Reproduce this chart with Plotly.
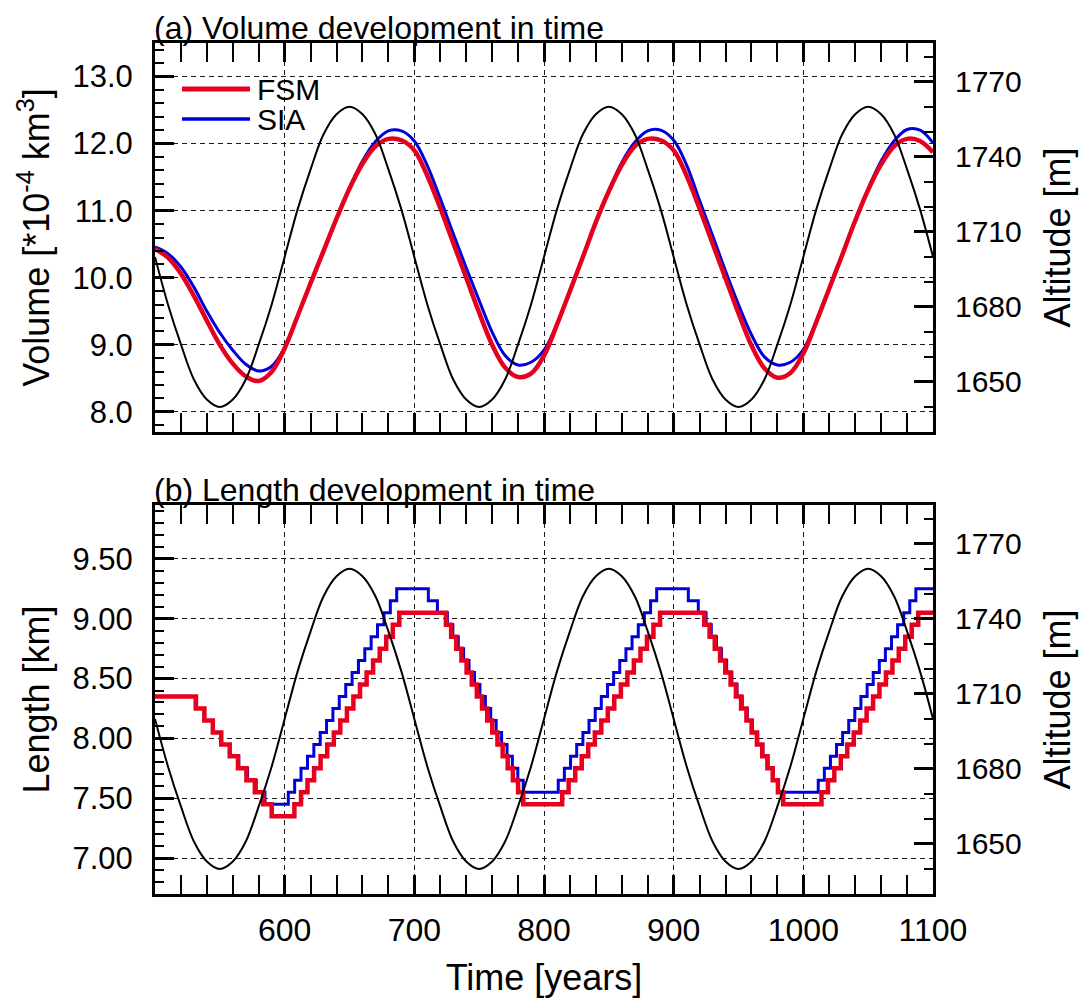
import plotly.graph_objects as go

# ---------------- data ----------------
years = list(range(500, 1101, 10))

altitude = [1700, 1681, 1665, 1651, 1643, 1640, 1643, 1651, 1665, 1681,
            1700, 1719, 1735, 1749, 1757, 1760, 1757, 1749, 1735, 1719,
            1700, 1681, 1665, 1651, 1643, 1640, 1643, 1651, 1665, 1681,
            1700, 1719, 1735, 1749, 1757, 1760, 1757, 1749, 1735, 1719,
            1700, 1681, 1665, 1651, 1643, 1640, 1643, 1651, 1665, 1681,
            1700, 1719, 1735, 1749, 1757, 1760, 1757, 1749, 1735, 1719,
            1700]

vol_fsm = [10.43, 10.30, 10.06, 9.73, 9.36, 9.00, 8.72, 8.53, 8.46, 8.60,
           8.95, 9.43, 9.92, 10.40, 10.88, 11.33, 11.70, 11.96, 12.07, 12.05,
           11.90, 11.52, 11.04, 10.52, 10.00, 9.48, 9.00, 8.66, 8.52, 8.57,
           8.84, 9.30, 9.80, 10.31, 10.83, 11.29, 11.68, 11.96, 12.07, 12.05,
           11.90, 11.52, 11.03, 10.51, 9.99, 9.47, 8.99, 8.65, 8.51, 8.58,
           8.87, 9.34, 9.84, 10.34, 10.85, 11.31, 11.69, 11.96, 12.07, 12.04,
           11.87]

vol_sia = [10.46, 10.36, 10.16, 9.86, 9.50, 9.18, 8.92, 8.71, 8.61, 8.68,
           8.96, 9.43, 9.92, 10.40, 10.88, 11.34, 11.74, 12.03, 12.19, 12.19,
           12.04, 11.67, 11.18, 10.66, 10.15, 9.66, 9.19, 8.84, 8.70, 8.74,
           8.92, 9.31, 9.80, 10.31, 10.83, 11.30, 11.72, 12.02, 12.19, 12.20,
           12.05, 11.68, 11.15, 10.63, 10.10, 9.60, 9.15, 8.82, 8.70, 8.74,
           8.93, 9.35, 9.85, 10.35, 10.86, 11.33, 11.74, 12.04, 12.21, 12.20,
           12.01]

# glacier length: times at which the (stepped) length changes, and new level
fsm_len_t = [500, 531.6, 538.1, 544.6, 551.1, 557.6, 564.0, 570.5, 577.0, 583.5, 590.0,
             607.5, 612.6, 617.6, 622.7, 627.7, 632.8, 637.9, 642.9, 648.0, 653.0,
             658.1, 663.2, 668.2, 673.3, 678.3, 683.4, 688.4,
             724.4, 728.4, 732.3, 736.3, 740.3, 744.3, 748.2, 752.2, 756.2, 760.1,
             764.1, 768.1, 772.0, 776.0, 780.0, 784.0,
             814.0, 819.0, 824.1, 829.1, 834.1, 839.2, 844.2, 849.2, 854.2, 859.3,
             864.3, 869.3, 874.4, 879.4, 884.4, 889.5,
             923.6, 927.7, 931.7, 935.8, 939.8, 943.9, 948.0, 952.0, 956.1, 960.1,
             964.2, 968.3, 972.3, 976.4, 980.4, 984.5,
             1014.0, 1019.0, 1023.9, 1028.9, 1033.9, 1038.9, 1043.8, 1048.8, 1053.8, 1058.7,
             1063.7, 1068.7, 1073.6, 1078.6, 1083.6, 1088.6,
             1100]
fsm_len_v = [8.35, 8.25, 8.15, 8.05, 7.95, 7.85, 7.75, 7.65, 7.55, 7.45, 7.35,
             7.45, 7.55, 7.65, 7.75, 7.85, 7.95, 8.05, 8.15, 8.25, 8.35,
             8.45, 8.55, 8.65, 8.75, 8.85, 8.95, 9.05,
             8.95, 8.85, 8.75, 8.65, 8.55, 8.45, 8.35, 8.25, 8.15, 8.05,
             7.95, 7.85, 7.75, 7.65, 7.55, 7.45,
             7.55, 7.65, 7.75, 7.85, 7.95, 8.05, 8.15, 8.25, 8.35, 8.45,
             8.55, 8.65, 8.75, 8.85, 8.95, 9.05,
             8.95, 8.85, 8.75, 8.65, 8.55, 8.45, 8.35, 8.25, 8.15, 8.05,
             7.95, 7.85, 7.75, 7.65, 7.55, 7.45,
             7.55, 7.65, 7.75, 7.85, 7.95, 8.05, 8.15, 8.25, 8.35, 8.45,
             8.55, 8.65, 8.75, 8.85, 8.95, 9.05,
             9.05]

sia_len_t = [500, 531.0, 537.7, 544.5, 551.2, 557.9, 564.6, 571.4, 578.1, 584.8,
             602.8, 607.7, 612.6, 617.6, 622.5, 627.4, 632.3, 637.2, 642.1, 647.1,
             652.0, 656.9, 661.8, 666.7, 671.6, 676.6, 681.5, 686.4,
             710.8, 717.8, 725.5, 729.7, 733.9, 738.0, 742.2, 746.4, 750.6, 754.8,
             758.9, 763.1, 767.3, 771.5, 775.6, 779.8, 784.0,
             811.0, 815.7, 820.5, 825.2, 830.0, 834.7, 839.5, 844.2, 849.0, 853.7,
             858.4, 863.2, 867.9, 872.7, 877.4, 882.2, 886.9,
             911.3, 919.0, 925.0, 929.0, 933.0, 936.9, 940.9, 944.9, 948.9, 952.9,
             956.8, 960.8, 964.8, 968.8, 972.8, 976.7, 980.7,
             1011.5, 1016.2, 1020.9, 1025.6, 1030.3, 1035.0, 1039.7, 1044.4, 1049.2, 1053.9,
             1058.6, 1063.3, 1068.0, 1072.7, 1077.4, 1082.1, 1086.8,
             1100]
sia_len_v = [8.35, 8.25, 8.15, 8.05, 7.95, 7.85, 7.75, 7.65, 7.55, 7.45,
             7.55, 7.65, 7.75, 7.85, 7.95, 8.05, 8.15, 8.25, 8.35, 8.45,
             8.55, 8.65, 8.75, 8.85, 8.95, 9.05, 9.15, 9.25,
             9.15, 9.05, 8.95, 8.85, 8.75, 8.65, 8.55, 8.45, 8.35, 8.25,
             8.15, 8.05, 7.95, 7.85, 7.75, 7.65, 7.55,
             7.65, 7.75, 7.85, 7.95, 8.05, 8.15, 8.25, 8.35, 8.45, 8.55,
             8.65, 8.75, 8.85, 8.95, 9.05, 9.15, 9.25,
             9.15, 9.05, 8.95, 8.85, 8.75, 8.65, 8.55, 8.45, 8.35, 8.25,
             8.15, 8.05, 7.95, 7.85, 7.75, 7.65, 7.55,
             7.65, 7.75, 7.85, 7.95, 8.05, 8.15, 8.25, 8.35, 8.45, 8.55,
             8.65, 8.75, 8.85, 8.95, 9.05, 9.15, 9.25,
             9.25]

x_ticks = [600, 700, 800, 900, 1000, 1100]
vol_ticks = [8.0, 9.0, 10.0, 11.0, 12.0, 13.0]
len_ticks = [7.0, 7.5, 8.0, 8.5, 9.0, 9.5]
alt_ticks = [1650, 1680, 1710, 1740, 1770]

series_names = ["FSM", "SIA"]
RED = "#E6001E"
BLUE = "#0000DC"
FONT = "Liberation Sans, Arial, Helvetica, sans-serif"

# ---------------- figure ----------------
fig = go.Figure()

# top panel
fig.add_trace(go.Scatter(x=years, y=vol_sia, mode="lines", name=series_names[1],
                         line=dict(color=BLUE, width=3, shape="spline"),
                         xaxis="x", yaxis="y", showlegend=False))
fig.add_trace(go.Scatter(x=years, y=vol_fsm, mode="lines", name=series_names[0],
                         line=dict(color=RED, width=4.5, shape="spline"),
                         xaxis="x", yaxis="y", showlegend=False))
fig.add_trace(go.Scatter(x=years, y=altitude, mode="lines", name="Altitude",
                         line=dict(color="black", width=2, shape="spline"),
                         xaxis="x", yaxis="y2", showlegend=False))
# bottom panel
fig.add_trace(go.Scatter(x=sia_len_t, y=sia_len_v, mode="lines", name=series_names[1],
                         line=dict(color=BLUE, width=3, shape="hv"),
                         xaxis="x2", yaxis="y3", showlegend=False))
fig.add_trace(go.Scatter(x=fsm_len_t, y=fsm_len_v, mode="lines", name=series_names[0],
                         line=dict(color=RED, width=4.5, shape="hv"),
                         xaxis="x2", yaxis="y3", showlegend=False))
fig.add_trace(go.Scatter(x=years, y=altitude, mode="lines", name="Altitude",
                         line=dict(color="black", width=2, shape="spline"),
                         xaxis="x2", yaxis="y4", showlegend=False))

MAJ_LEN, MIN_LEN = 19, 9
common_ax = dict(ticks="inside", ticklen=MAJ_LEN, tickwidth=2.5, tickcolor="black",
                 showline=True, linewidth=3, linecolor="black", zeroline=False,
                 tickfont=dict(family=FONT, size=31, color="black"))
grid = dict(showgrid=True, gridcolor="#1a1a1a", gridwidth=1.2, griddash="5px,4px")

def xaxis_def(domain_anchor, show_labels):
    d = dict(common_ax)
    d.update(grid)
    d.update(range=[500, 1100], tickmode="array", tickvals=x_ticks,
             ticktext=[str(v) for v in x_ticks], mirror="allticks",
             showticklabels=show_labels, anchor=domain_anchor,
             tickfont=dict(family=FONT, size=32, color="black"),
             ticklabelstandoff=6,
             minor=dict(tickmode="linear", tick0=500, dtick=20, ticks="inside",
                        ticklen=MIN_LEN, tickwidth=1.5, tickcolor="black", showgrid=False))
    return d

DOM_TOP = [(894 - 432) / 851, 1.0]
DOM_BOT = [0.0, (894 - 505) / 851]

xa1 = xaxis_def("y", False)
xa2 = xaxis_def("y3", True)
xa2.update(title=dict(text="Time [years]", font=dict(family=FONT, size=36, color="black"),
                      standoff=22))

ya1 = dict(common_ax)
ya1.update(grid)
ya1.update(domain=DOM_TOP, anchor="x", range=[7.7, 13.5], tickmode="array",
           tickvals=vol_ticks, ticktext=["%.1f" % v for v in vol_ticks],
           ticklabelstandoff=13,
           minor=dict(tickmode="linear", tick0=7.0, dtick=0.2, ticks="inside",
                      ticklen=MIN_LEN, tickwidth=1.5, tickcolor="black", showgrid=False),
           title=dict(text="Volume [*10<sup>-4</sup> km<sup>3</sup>]",
                      font=dict(family=FONT, size=36, color="black"), standoff=12))

ya2 = dict(common_ax)
ya2.update(domain=DOM_TOP, anchor="x", overlaying="y", side="right",
           range=[1630, 1785.5], tickmode="array", tickvals=alt_ticks,
           ticktext=[str(v) for v in alt_ticks], showgrid=False,
           ticklabelstandoff=13,
           tickfont=dict(family=FONT, size=30, color="black"),
           minor=dict(tickmode="linear", tick0=1630, dtick=10, ticks="inside",
                      ticklen=MIN_LEN, tickwidth=1.5, tickcolor="black", showgrid=False),
           title=dict(text="Altitude [m]", font=dict(family=FONT, size=36, color="black"),
                      standoff=25))

ya3 = dict(common_ax)
ya3.update(grid)
ya3.update(domain=DOM_BOT, anchor="x2", range=[6.7, 9.95], tickmode="array",
           tickvals=len_ticks, ticktext=["%.2f" % v for v in len_ticks],
           ticklabelstandoff=13,
           minor=dict(tickmode="linear", tick0=6.7, dtick=0.1, ticks="inside",
                      ticklen=MIN_LEN, tickwidth=1.5, tickcolor="black", showgrid=False),
           title=dict(text="Length [km]", font=dict(family=FONT, size=36, color="black"),
                      standoff=12))

ya4 = dict(ya2)
ya4.update(domain=DOM_BOT, anchor="x2", overlaying="y3")

fig.update_layout(
    width=1083, height=998,
    margin=dict(l=155, r=150, t=43, b=104, autoexpand=False),
    paper_bgcolor="white", plot_bgcolor="white",
    font=dict(family=FONT, color="black"),
    xaxis=xa1, xaxis2=xa2, yaxis=ya1, yaxis2=ya2, yaxis3=ya3, yaxis4=ya4,
    showlegend=False,
)

# panel titles
fig.add_annotation(text="(a) Volume development in time", xref="x domain", yref="y domain",
                   x=0, y=1, xanchor="left", yanchor="bottom", xshift=-3, yshift=-5,
                   showarrow=False, font=dict(family=FONT, size=32, color="black"))
fig.add_annotation(text="(b) Length development in time", xref="x2 domain", yref="y3 domain",
                   x=0, y=1, xanchor="left", yanchor="bottom", xshift=-3, yshift=-5,
                   showarrow=False, font=dict(family=FONT, size=32, color="black"))

# legend (key lines + labels) inside the top panel
leg_rows = [(series_names[0], RED, 5, 0.8817), (series_names[1], BLUE, 3.5, 0.8046)]
for name, col, w, yy in leg_rows:
    fig.add_shape(type="line", xref="x domain", yref="y domain",
                  x0=0.0347, x1=0.1221, y0=yy, y1=yy, line=dict(color=col, width=w))
    fig.add_annotation(text=name, xref="x domain", yref="y domain", x=0.1290, y=yy,
                       xanchor="left", yanchor="middle", showarrow=False,
                       font=dict(family=FONT, size=30, color="black"))

fig.write_html("out.html")
